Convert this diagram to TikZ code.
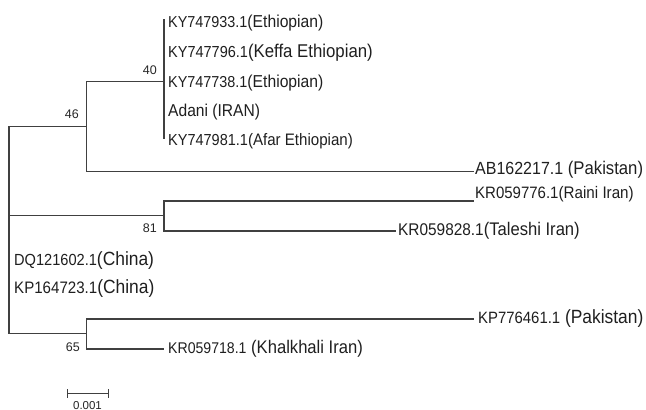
\documentclass[tikz,border=0pt]{standalone}
\usepackage{fontspec}
\setmainfont{Liberation Sans}
\newcommand\fs[1]{\fontsize{#1}{#1}\selectfont}
\begin{document}
\begin{tikzpicture}[x=1pt,y=-1pt,
  branch/.style={draw=black!75,line width=1.1pt,line cap=rect},
  leaf/.style={anchor=base west,inner sep=0pt,text=black!88,yscale=1.1},
  boot/.style={anchor=base east,inner sep=0pt,text=black!85,font=\fs{12.5}},
  scalebar/.style={draw=black!75,line width=1pt}]
\useasboundingbox (0,0) rectangle (646,410);
% junctions and tips
\coordinate (r46) at (9,126.5);
\coordinate (r81) at (9,215.5);
\coordinate (r65) at (9,333.5);
\coordinate (n46) at (86.5,126.5);
\coordinate (n40) at (164,81.5);
\coordinate (e40top) at (164,20);
\coordinate (e40bot) at (164,138);
\coordinate (tAB) at (473,171.5);
\coordinate (n81) at (164,215.5);
\coordinate (tRaini) at (473,201);
\coordinate (tTal) at (395,231);
\coordinate (n65) at (86.5,333.5);
\coordinate (tKP) at (473,319);
\coordinate (tKh) at (163,349);
% branches
\draw[branch] (r46) -- (r65);
\draw[branch] (r46) -- (n46);
\draw[branch] (n46) |- (n40);
\draw[branch] (n46) |- (tAB);
\draw[branch] (e40top) -- (e40bot);
\draw[branch] (r81) -- (n81);
\draw[branch] (n81) |- (tRaini);
\draw[branch] (n81) |- (tTal);
\draw[branch] (r65) -- (n65);
\draw[branch] (n65) |- (tKP);
\draw[branch] (n65) |- (tKh);
% leaf labels
\node[leaf] (l1) at (168,27) {{\fs{14.4}KY747933.1}{\fs{15.7}(Ethiopian)}};
\node[leaf] (l2) at (168,57) {{\fs{14.5}KY747796.1}{\fs{16.8}(Keffa Ethiopian)}};
\node[leaf] (l3) at (168,87) {{\fs{14.4}KY747738.1}{\fs{15.7}(Ethiopian)}};
\node[leaf] (l4) at (168,116) {{\fs{15.6}Adani (IRAN)}};
\node[leaf] (l5) at (168,145) {{\fs{14.5}KY747981.1}{\fs{15.1}(Afar Ethiopian)}};
\node[leaf] (l6) at (475,174) {{\fs{16}AB162217.1}{\fs{16.7} (Pakistan)}};
\node[leaf] (l7) at (475,198) {{\fs{15}KR059776.1}{\fs{15.2}(Raini Iran)}};
\node[leaf] (l8) at (398,235) {{\fs{15.4}KR059828.1}{\fs{16.6}(Taleshi Iran)}};
\node[leaf] (l9) at (14,265) {{\fs{14.6}DQ121602.1}{\fs{17.4}(China)}};
\node[leaf] (l10) at (14,293) {{\fs{15.1}KP164723.1}{\fs{17.4}(China)}};
\node[leaf] (l11) at (478,323) {{\fs{14.9}KP776461.1}{\fs{17.4} (Pakistan)}};
\node[leaf] (l12) at (168,353) {{\fs{14.1}KR059718.1}{\fs{16.6} (Khalkhali Iran)}};
% bootstrap values
\node[boot] (b40) at (157,74) {40};
\node[boot] (b46) at (79,118) {46};
\node[boot] (b81) at (157,232) {81};
\node[boot] (b65) at (80,351) {65};
% scale bar
\coordinate (sbl) at (67,393);
\coordinate (sbr) at (108,393);
\draw[scalebar] (sbl) -- (sbr);
\draw[scalebar] ([yshift=-4.5pt]sbl) -- ([yshift=4.5pt]sbl);
\draw[scalebar] ([yshift=-4.5pt]sbr) -- ([yshift=4.5pt]sbr);
\node[anchor=base,inner sep=0pt,text=black!85,font=\fs{11.5}] (sblabel) at (87.5,409) {0.001};
\end{tikzpicture}
\end{document}
